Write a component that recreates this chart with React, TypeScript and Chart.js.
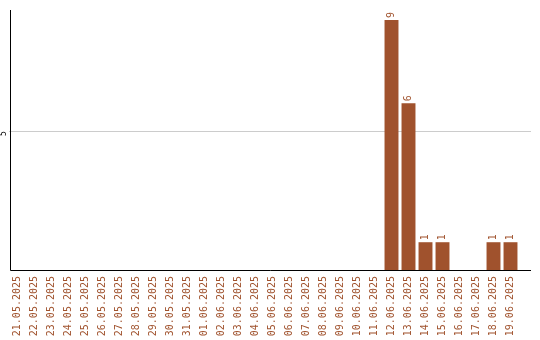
import { useEffect, useRef } from 'react';
import { Chart, registerables } from 'chart.js';

Chart.register(...registerables);

// Daily counts, 21.05.2025 – 19.06.2025
const dates = [
  '21.05.2025', '22.05.2025', '23.05.2025', '24.05.2025', '25.05.2025',
  '26.05.2025', '27.05.2025', '28.05.2025', '29.05.2025', '30.05.2025',
  '31.05.2025', '01.06.2025', '02.06.2025', '03.06.2025', '04.06.2025',
  '05.06.2025', '06.06.2025', '07.06.2025', '08.06.2025', '09.06.2025',
  '10.06.2025', '11.06.2025', '12.06.2025', '13.06.2025', '14.06.2025',
  '15.06.2025', '16.06.2025', '17.06.2025', '18.06.2025', '19.06.2025',
];
const counts = [
  0, 0, 0, 0, 0,
  0, 0, 0, 0, 0,
  0, 0, 0, 0, 0,
  0, 0, 0, 0, 0,
  0, 0, 9, 6, 1,
  1, 0, 0, 1, 1,
];
const yTicks = [5];

const BROWN = '#A0522D';
const GRID = '#cccccc';
const FONT = '"DejaVu Sans Mono", monospace';
const AXIS_END = 531;

export default function App() {
  const canvasRef = useRef<HTMLCanvasElement>(null);

  useEffect(() => {
    const canvas = canvasRef.current;
    if (!canvas) return;

    const yMax = Math.max(...counts) * 1.04;

    // rotated value labels above non-empty bars
    const valueLabels = {
      id: 'valueLabels',
      afterDatasetsDraw(chart: any) {
        const { ctx } = chart;
        const meta = chart.getDatasetMeta(0);
        ctx.save();
        ctx.fillStyle = BROWN;
        ctx.font = `10px ${FONT}`;
        ctx.textAlign = 'left';
        ctx.textBaseline = 'middle';
        meta.data.forEach((bar: any, i: number) => {
          const v = counts[i];
          if (!v) return;
          ctx.save();
          ctx.translate(bar.x, bar.y - 2);
          ctx.rotate(-Math.PI / 2);
          ctx.fillText(String(v), 0, 0);
          ctx.restore();
        });
        ctx.restore();
      },
    };

    // axis lines; the x axis and the grid run a little past the last category
    const axisLines = {
      id: 'axisLines',
      beforeDatasetsDraw(chart: any) {
        const { ctx, chartArea } = chart;
        const yScale = chart.scales.y;
        ctx.save();
        ctx.lineWidth = 1;
        ctx.strokeStyle = GRID;
        yTicks.forEach((t) => {
          const py = Math.round(yScale.getPixelForValue(t)) + 0.5;
          ctx.beginPath();
          ctx.moveTo(chartArea.right, py);
          ctx.lineTo(AXIS_END, py);
          ctx.stroke();
        });
        ctx.restore();
      },
      afterDraw(chart: any) {
        const { ctx, chartArea } = chart;
        ctx.save();
        ctx.lineWidth = 1;
        ctx.strokeStyle = '#000000';
        const bottom = Math.round(chartArea.bottom) + 0.5;
        const left = Math.round(chartArea.left) + 1.5;
        ctx.beginPath();
        ctx.moveTo(left, Math.round(chartArea.top));
        ctx.lineTo(left, bottom);
        ctx.lineTo(AXIS_END, bottom);
        ctx.stroke();
        ctx.restore();
      },
    };

    const chart = new Chart(canvas, {
      type: 'bar',
      data: {
        labels: dates,
        datasets: [
          {
            data: counts,
            backgroundColor: BROWN,
            borderWidth: 0,
            categoryPercentage: 1,
            barPercentage: 0.82,
          },
        ],
      },
      options: {
        responsive: false,
        animation: false,
        devicePixelRatio: 1,
        layout: { padding: { top: 10, right: 21, left: 0, bottom: 0 } },
        plugins: {
          legend: { display: false },
          tooltip: { enabled: false },
          title: { display: false },
        },
        scales: {
          x: {
            grid: { display: false, drawTicks: false },
            border: { display: false },
            ticks: {
              color: BROWN,
              font: { family: FONT, size: 10 },
              minRotation: 90,
              maxRotation: 90,
              autoSkip: false,
              padding: 6,
            },
            afterFit(scale: any) {
              scale.height = 70;
            },
          },
          y: {
            min: 0,
            max: yMax,
            grid: { color: GRID, drawTicks: false },
            border: { display: false },
            ticks: {
              color: '#000000',
              font: { family: FONT, size: 8 },
              minRotation: 90,
              maxRotation: 90,
              padding: 5,
            },
            afterBuildTicks(scale: any) {
              scale.ticks = yTicks.map((value) => ({ value }));
            },
            afterFit(scale: any) {
              scale.width = 9;
            },
          },
        },
      },
      plugins: [valueLabels, axisLines],
    });

    return () => chart.destroy();
  }, []);

  return (
    <div style={{ position: 'fixed', left: 0, top: 0, width: 540, height: 340, background: '#ffffff' }}>
      <canvas ref={canvasRef} width={540} height={340} style={{ display: 'block' }} />
    </div>
  );
}
